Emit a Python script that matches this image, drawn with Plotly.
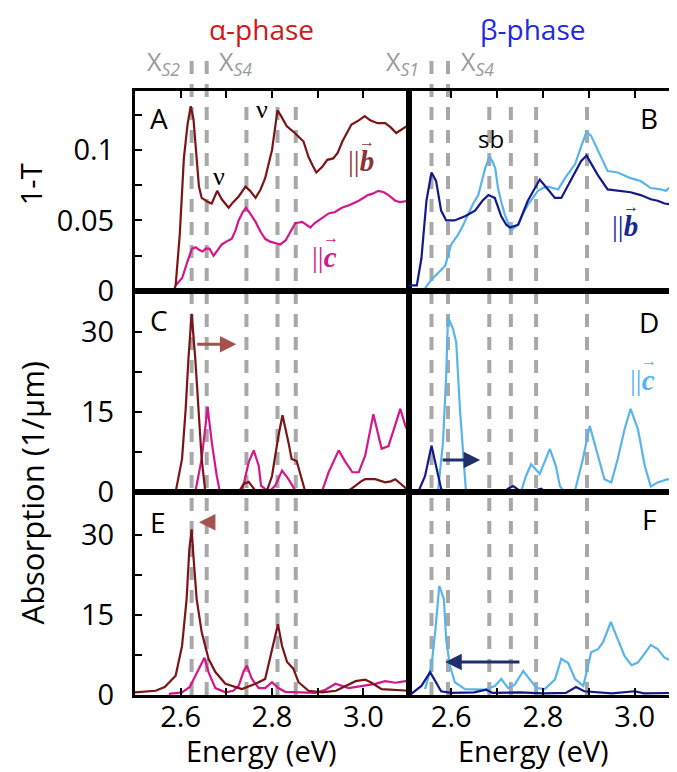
import plotly.graph_objects as go

# ---------------- data ----------------
# Panel A (alpha, 1-T)
E_ab_A = [2.585, 2.589, 2.598, 2.607, 2.615, 2.622, 2.628, 2.634, 2.640, 2.646, 2.660, 2.668, 2.680, 2.690, 2.705, 2.715,
          2.727, 2.742, 2.752, 2.764, 2.775, 2.785, 2.800, 2.812, 2.820, 2.832, 2.850, 2.869, 2.880, 2.889, 2.897, 2.910,
          2.921, 2.934, 2.944, 2.954, 2.964, 2.974, 2.990, 3.003, 3.015, 3.031, 3.048, 3.060, 3.072, 3.081, 3.100]
V_ab_A = [0.0, 0.004, 0.04, 0.094, 0.118, 0.131, 0.122, 0.095, 0.074, 0.066, 0.063, 0.062, 0.071, 0.065, 0.059, 0.063,
          0.067, 0.074, 0.071, 0.066, 0.072, 0.080, 0.100, 0.128, 0.124, 0.117, 0.112, 0.106, 0.095, 0.089, 0.084, 0.088,
          0.093, 0.094, 0.098, 0.106, 0.112, 0.118, 0.121, 0.124, 0.121, 0.119, 0.119, 0.116, 0.112, 0.114, 0.118]
E_ac_A = [2.589, 2.603, 2.617, 2.625, 2.633, 2.641, 2.648, 2.655, 2.663, 2.672, 2.681, 2.690, 2.700, 2.712, 2.720, 2.727,
          2.736, 2.743, 2.752, 2.764, 2.775, 2.785, 2.796, 2.807, 2.818, 2.830, 2.840, 2.851, 2.866, 2.876, 2.884, 2.893,
          2.902, 2.913, 2.924, 2.938, 2.953, 2.970, 2.990, 3.010, 3.020, 3.033, 3.045, 3.055, 3.070, 3.080, 3.100]
V_ac_A = [0.004, 0.009, 0.023, 0.030, 0.031, 0.029, 0.028, 0.030, 0.030, 0.025, 0.029, 0.033, 0.035, 0.037, 0.043, 0.050,
          0.056, 0.059, 0.055, 0.049, 0.042, 0.037, 0.035, 0.034, 0.033, 0.036, 0.042, 0.048, 0.049, 0.047, 0.045, 0.048,
          0.050, 0.052, 0.055, 0.056, 0.059, 0.061, 0.064, 0.068, 0.069, 0.071, 0.070, 0.068, 0.064, 0.063, 0.064]

# Panel B (beta, 1-T)
E_bb_B = [2.508, 2.525, 2.535, 2.546, 2.557, 2.567, 2.578, 2.589, 2.607, 2.630, 2.652, 2.668, 2.681, 2.695, 2.709, 2.720,
          2.728, 2.746, 2.767, 2.780, 2.793, 2.811, 2.826, 2.840, 2.855, 2.870, 2.883, 2.895, 2.908, 2.920, 2.941, 2.963,
          2.991, 3.013, 3.035, 3.050, 3.065, 3.090]
V_bb_B = [0.004, 0.004, 0.023, 0.064, 0.084, 0.078, 0.057, 0.050, 0.050, 0.053, 0.057, 0.064, 0.068, 0.066, 0.053, 0.047,
          0.045, 0.047, 0.064, 0.072, 0.079, 0.072, 0.066, 0.066, 0.075, 0.085, 0.092, 0.096, 0.089, 0.082, 0.072, 0.071,
          0.070, 0.068, 0.065, 0.064, 0.062, 0.061]
E_bc_B = [2.543, 2.557, 2.572, 2.587, 2.600, 2.615, 2.625, 2.637, 2.648, 2.659, 2.667, 2.674, 2.683, 2.690, 2.696, 2.702,
          2.710, 2.717, 2.730, 2.738, 2.746, 2.757, 2.767, 2.778, 2.789, 2.800, 2.811, 2.822, 2.833, 2.848, 2.860, 2.870,
          2.884, 2.895, 2.905, 2.916, 2.926, 2.941, 2.963, 2.978, 2.991, 3.013, 3.035, 3.057, 3.068, 3.078, 3.090]
V_bc_B = [0.002, 0.008, 0.013, 0.018, 0.033, 0.040, 0.046, 0.054, 0.062, 0.068, 0.078, 0.087, 0.095, 0.092, 0.087, 0.073,
          0.062, 0.054, 0.043, 0.045, 0.047, 0.055, 0.061, 0.066, 0.071, 0.073, 0.074, 0.073, 0.072, 0.080, 0.085, 0.090,
          0.103, 0.113, 0.110, 0.102, 0.095, 0.085, 0.084, 0.082, 0.080, 0.078, 0.073, 0.072, 0.071, 0.074, 0.077]

# Panel C (alpha, absorption, calc 1)
E_ab_C = [2.585, 2.589, 2.603, 2.611, 2.617, 2.624, 2.632, 2.639, 2.646, 2.654, 2.727, 2.738, 2.749, 2.763, 2.776, 2.790,
          2.800, 2.814, 2.823, 2.836, 2.843, 2.854, 2.866, 2.873, 2.961, 2.972, 2.983, 2.995, 3.004, 3.026, 3.048, 3.060,
          3.070, 3.080, 3.092, 3.100]
V_ab_C = [0.0, 0.0, 6.2, 15.6, 25.0, 33.4, 25.0, 15.6, 6.2, 0.0, 0.0, 1.5, 1.9, 0.3, 0.0, 0.5,
          3.0, 10.5, 14.4, 9.3, 6.2, 5.8, 1.8, 0.0, 0.0, 0.5, 1.2, 2.0, 2.4, 2.4, 1.8, 2.0,
          2.4, 1.6, 0.8, 0.5]
E_ac_C = [2.632, 2.646, 2.659, 2.668, 2.679, 2.686, 2.734, 2.742, 2.749, 2.760, 2.771, 2.776, 2.793, 2.807, 2.822, 2.836,
          2.851, 2.909, 2.924, 2.946, 2.961, 2.976, 2.990, 3.004, 3.022, 3.040, 3.055, 3.081, 3.092, 3.100]
V_ac_C = [0.0, 6.2, 15.9, 9.4, 3.0, 0.0, 0.0, 3.0, 5.6, 7.8, 4.9, 1.2, 0.0, 1.2, 4.0, 2.4,
          0.3, 0.0, 3.7, 7.8, 5.6, 3.7, 3.7, 6.8, 14.6, 8.1, 8.6, 15.6, 12.4, 11.0]

# Panel D (beta, absorption, calc 1)
E_bb_D = [2.528, 2.543, 2.557, 2.567, 2.578, 2.585, 2.715, 2.724, 2.735, 2.750, 2.780, 2.796, 2.805, 2.880, 2.891, 2.900,
          2.950, 3.000]
V_bb_D = [0.0, 3.0, 8.7, 4.9, 0.6, 0.0, 0.0, 0.6, 1.1, 0.2, 0.2, 0.6, 0.1, 0.0, 0.3, 0.0,
          0.0, 0.0]
E_bc_D = [2.571, 2.582, 2.589, 2.593, 2.604, 2.611, 2.619, 2.626, 2.632, 2.752, 2.763, 2.774, 2.793, 2.815, 2.828, 2.837,
          2.844, 2.870, 2.887, 2.902, 2.920, 2.934, 2.949, 2.963, 2.978, 2.991, 3.007, 3.022, 3.035, 3.050, 3.072, 3.089]
V_bc_D = [0.0, 9.3, 21.8, 32.8, 30.6, 28.0, 15.6, 6.2, 0.3, 0.0, 3.0, 5.2, 3.4, 8.1, 4.9, 1.1,
          0.3, 0.3, 6.2, 12.4, 6.8, 2.4, 1.8, 6.2, 11.8, 15.6, 11.8, 4.9, 1.0, 1.8, 2.4, 2.0]

# Panel E (alpha, absorption, calc 2)
E_ab_E = [2.500, 2.545, 2.565, 2.589, 2.603, 2.613, 2.619, 2.624, 2.628, 2.635, 2.646, 2.661, 2.676, 2.698, 2.734, 2.764,
          2.785, 2.800, 2.813, 2.822, 2.833, 2.847, 2.858, 2.880, 2.910, 2.940, 2.961, 2.983, 3.004, 3.018, 3.040, 3.092,
          3.100]
V_ab_E = [0.5, 0.8, 1.5, 3.6, 9.2, 18.0, 27.4, 31.1, 26.0, 18.0, 11.8, 6.8, 4.3, 2.1, 1.1, 2.1,
          3.0, 8.6, 13.3, 9.2, 6.2, 4.9, 2.4, 0.8, 0.5, 0.8, 1.7, 2.6, 2.9, 2.3, 1.1, 0.8,
          0.8]
E_ac_E = [2.574, 2.603, 2.620, 2.632, 2.646, 2.652, 2.661, 2.676, 2.698, 2.715, 2.727, 2.738, 2.745, 2.756, 2.771, 2.785,
          2.800, 2.814, 2.829, 2.866, 2.895, 2.917, 2.939, 2.968, 2.997, 3.026, 3.048, 3.070, 3.092, 3.100]
V_ac_E = [0.2, 0.5, 1.5, 3.6, 6.2, 7.0, 4.3, 1.3, 0.5, 0.8, 1.7, 4.5, 5.5, 3.0, 1.3, 1.3,
          2.4, 1.3, 0.6, 0.5, 0.4, 1.0, 2.1, 1.3, 1.7, 2.1, 2.6, 2.3, 2.6, 2.6]

# Panel F (beta, absorption, calc 2)
E_bb_F = [2.513, 2.535, 2.554, 2.565, 2.578, 2.600, 2.650, 2.676, 2.690, 2.750, 2.800, 2.850, 2.872, 2.890, 2.950, 3.000,
          3.020, 3.090]
V_bb_F = [0.2, 1.7, 4.3, 2.6, 0.7, 0.4, 0.5, 1.0, 0.4, 0.5, 0.3, 0.4, 1.5, 0.7, 0.3, 0.7,
          0.3, 0.4]
E_bc_F = [2.543, 2.557, 2.565, 2.574, 2.584, 2.589, 2.597, 2.608, 2.630, 2.673, 2.695, 2.709, 2.724, 2.738, 2.757, 2.771,
          2.786, 2.804, 2.826, 2.840, 2.855, 2.870, 2.888, 2.905, 2.920, 2.931, 2.948, 2.963, 2.978, 2.993, 3.007, 3.022,
          3.035, 3.050, 3.065, 3.080, 3.089]
V_bc_F = [1.1, 5.5, 11.8, 20.5, 18.0, 10.5, 5.5, 2.4, 1.1, 1.0, 1.7, 3.0, 1.3, 1.9, 4.5, 3.0,
          1.3, 1.1, 2.9, 6.8, 6.0, 3.0, 1.7, 8.0, 8.6, 9.9, 13.7, 10.5, 7.3, 5.6, 6.1, 7.8,
          9.4, 8.6, 7.0, 6.4, 8.2]

# exciton positions (dashed lines)
alpha_lines = [2.624, 2.657, 2.744, 2.812, 2.852]
beta_lines = [2.557, 2.593, 2.683, 2.730, 2.785, 2.896]

x_ticks = [2.6, 2.7, 2.8, 2.9, 3.0]
x_ticktext = ["2.6", "", "2.8", "", "3.0"]
yA_ticks = [0, 0.025, 0.05, 0.075, 0.1, 0.125]
yA_ticktext = ["0", "", "0.05", "", "0.1", ""]
yC_ticks = [0, 7.5, 15, 22.5, 30]
yC_ticktext = ["0", "", "15", "", "30"]

# ---------------- styling ----------------
C_AB = "#7B1416"
C_AC = "#D4168C"
C_BB = "#14198A"
C_BC = "#5AB4EC"
GRAY = "#A8A8A8"
FONT = "Open Sans"

fig = go.Figure()


def add(x, y, color, xa, ya):
    fig.add_trace(go.Scatter(x=x, y=y, mode="lines", line=dict(color=color, width=2.2),
                             xaxis=xa, yaxis=ya, showlegend=False, hoverinfo="skip"))


add(E_ac_A, V_ac_A, C_AC, "x", "y")
add(E_ab_A, V_ab_A, C_AB, "x", "y")
add(E_bc_B, V_bc_B, C_BC, "x2", "y2")
add(E_bb_B, V_bb_B, C_BB, "x2", "y2")
add(E_ac_C, V_ac_C, C_AC, "x3", "y3")
add(E_ab_C, V_ab_C, C_AB, "x3", "y3")
add(E_bc_D, V_bc_D, C_BC, "x4", "y4")
add(E_bb_D, V_bb_D, C_BB, "x4", "y4")
add(E_ac_E, V_ac_E, C_AC, "x5", "y5")
add(E_ab_E, V_ab_E, C_AB, "x5", "y5")
add(E_bc_F, V_bc_F, C_BC, "x6", "y6")
add(E_bb_F, V_bb_F, C_BB, "x6", "y6")

XL = [0, 0.5065]
XR = [0.5065, 1]
ROW = {"A": [0.6689, 1.0], "C": [0.3361, 0.6689], "E": [0.0, 0.3361]}
RANGE_L = [2.5, 3.1]
RANGE_R = [2.508, 3.09]

base_ax = dict(showline=True, linecolor="black", linewidth=3, mirror=True, showgrid=False,
               zeroline=False, ticks="inside", ticklen=7, tickwidth=2, tickcolor="black",
               tickfont=dict(family=FONT, size=29, color="black"))


def xax(domain, rng, anchor, side, labels, ticks=True):
    d = dict(base_ax)
    d.update(domain=domain, range=rng, anchor=anchor, side=side, tickvals=x_ticks,
             ticktext=x_ticktext, showticklabels=labels, ticklabelstandoff=-6)
    if not ticks:
        d["ticks"] = ""
    return d


def yax(domain, rng, anchor, side, labels, tv, tt):
    d = dict(base_ax)
    d.update(domain=domain, range=rng, anchor=anchor, side=side, tickvals=tv, ticktext=tt,
             showticklabels=labels, ticklabelstandoff=12)
    return d


fig.update_layout(
    xaxis=xax(XL, RANGE_L, "y", "top", False),
    xaxis2=xax(XR, RANGE_R, "y2", "top", False),
    xaxis3=xax(XL, RANGE_L, "y3", "bottom", False, ticks=False),
    xaxis4=xax(XR, RANGE_R, "y4", "bottom", False, ticks=False),
    xaxis5=xax(XL, RANGE_L, "y5", "bottom", True),
    xaxis6=xax(XR, RANGE_R, "y6", "bottom", True),
    yaxis=yax(ROW["A"], [0, 0.1418], "x", "left", True, yA_ticks, yA_ticktext),
    yaxis2=yax(ROW["A"], [0, 0.1418], "x2", "right", False, yA_ticks, yA_ticktext),
    yaxis3=yax(ROW["C"], [0, 37.7], "x3", "left", True, yC_ticks, yC_ticktext),
    yaxis4=yax(ROW["C"], [0, 37.7], "x4", "right", False, yC_ticks, yC_ticktext),
    yaxis5=yax(ROW["E"], [0, 38.1], "x5", "left", True, yC_ticks, yC_ticktext),
    yaxis6=yax(ROW["E"], [0, 38.1], "x6", "right", False, yC_ticks, yC_ticktext),
)

# dashed exciton lines
shapes = []
for i, xv in enumerate(alpha_lines):
    shapes.append(dict(type="line", xref="x", yref="paper", x0=xv, x1=xv, y0=0,
                       y1=1.062 if i < 2 else 0.985, layer="below",
                       line=dict(color=GRAY, width=4, dash="13px,10px")))
for i, xv in enumerate(beta_lines):
    shapes.append(dict(type="line", xref="x2", yref="paper", x0=xv, x1=xv, y0=0,
                       y1=1.062 if i < 2 else 0.985, layer="below",
                       line=dict(color=GRAY, width=4, dash="13px,10px")))
fig.update_layout(shapes=shapes)

ann = []


def txt(text, x, y, xref, yref, size=28, color="black", family=FONT, xanchor="center", yanchor="middle", angle=0):
    ann.append(dict(text=text, x=x, y=y, xref=xref, yref=yref, showarrow=False,
                    font=dict(family=family, size=size, color=color), xanchor=xanchor,
                    yanchor=yanchor, textangle=angle))


# titles
txt("α-phase", 0.233, 1.103, "paper", "paper", size=28, color="#D01818")
txt("β-phase", 0.736, 1.103, "paper", "paper", size=28, color="#2228E0")
sub = lambda s: "X<sub><i>" + s + "</i></sub>"
GR = "#9A9A9A"
txt(sub("S2"), 0.052, 1.048, "paper", "paper", size=25, color=GR)
txt(sub("S4"), 0.185, 1.048, "paper", "paper", size=25, color=GR)
txt(sub("S1"), 0.495, 1.048, "paper", "paper", size=25, color=GR)
txt(sub("S4"), 0.634, 1.048, "paper", "paper", size=25, color=GR)

# axis titles
txt("1-T", -0.193, 0.845, "paper", "paper", size=29, angle=-90)
txt("Absorption (1/μm)", -0.19, 0.334, "paper", "paper", size=31, angle=-90)
txt("Energy (eV)", 0.233, -0.092, "paper", "paper", size=29)
txt("Energy (eV)", 0.737, -0.092, "paper", "paper", size=29)

# panel letters
txt("A", 0.047, 0.865, "x domain", "y domain", xanchor="left")
txt("B", 0.9, 0.865, "x2 domain", "y2 domain")
txt("C", 0.047, 0.856, "x3 domain", "y3 domain", xanchor="left")
txt("D", 0.9, 0.846, "x4 domain", "y4 domain")
txt("E", 0.047, 0.852, "x5 domain", "y5 domain", xanchor="left")
txt("F", 0.898, 0.867, "x6 domain", "y6 domain")

# labels in panels
txt("ν", 2.685, 0.081, "x", "y", size=26, family="Liberation Serif")
txt("ν", 2.777, 0.129, "x", "y", size=26, family="Liberation Serif")
txt("sb", 2.687, 0.108, "x2", "y2", size=24)

# polarisation labels (|| + vector letter with small arrow above)
txt("||<b><i>b</i></b>", 2.995, 0.092, "x", "y", size=29, color="#8C3434", family="Liberation Serif")
txt("→", 3.009, 0.106, "x", "y", size=16, color="#8C3434")
txt("||<b><i>c</i></b>", 2.915, 0.024, "x", "y", size=29, color=C_AC, family="Liberation Serif")
txt("→", 2.929, 0.038, "x", "y", size=16, color=C_AC)
txt("||<b><i>b</i></b>", 2.978, 0.046, "x2", "y2", size=29, color="#1A2596", family="Liberation Serif")
txt("→", 2.992, 0.060, "x2", "y2", size=16, color="#1A2596")
txt("||<b><i>c</i></b>", 3.017, 21.0, "x4", "y4", size=29, color=C_BC, family="Liberation Serif")
txt("→", 3.031, 24.8, "x4", "y4", size=16, color=C_BC)


def arrow(x0, x1, y, xr, yr, color):
    ann.append(dict(text="", x=x1, y=y, ax=x0, ay=y, xref=xr, yref=yr, axref=xr, ayref=yr,
                    showarrow=True, arrowhead=2, arrowsize=1.1, arrowwidth=3, arrowcolor=color))


arrow(2.633, 2.722, 27.7, "x3", "y3", "#A5524E")
arrow(2.668, 2.640, 32.4, "x5", "y5", "#A5524E")
arrow(2.578, 2.663, 6.0, "x4", "y4", "#1F2F6B")
arrow(2.752, 2.587, 6.2, "x6", "y6", "#1F2F6B")

fig.update_layout(annotations=ann)

fig.update_layout(
    width=677, height=772, autosize=False,
    margin=dict(l=127, r=9, t=83, b=85),
    paper_bgcolor="white", plot_bgcolor="white",
    font=dict(family=FONT, color="black"),
    showlegend=False,
)

fig.write_html("out.html")
